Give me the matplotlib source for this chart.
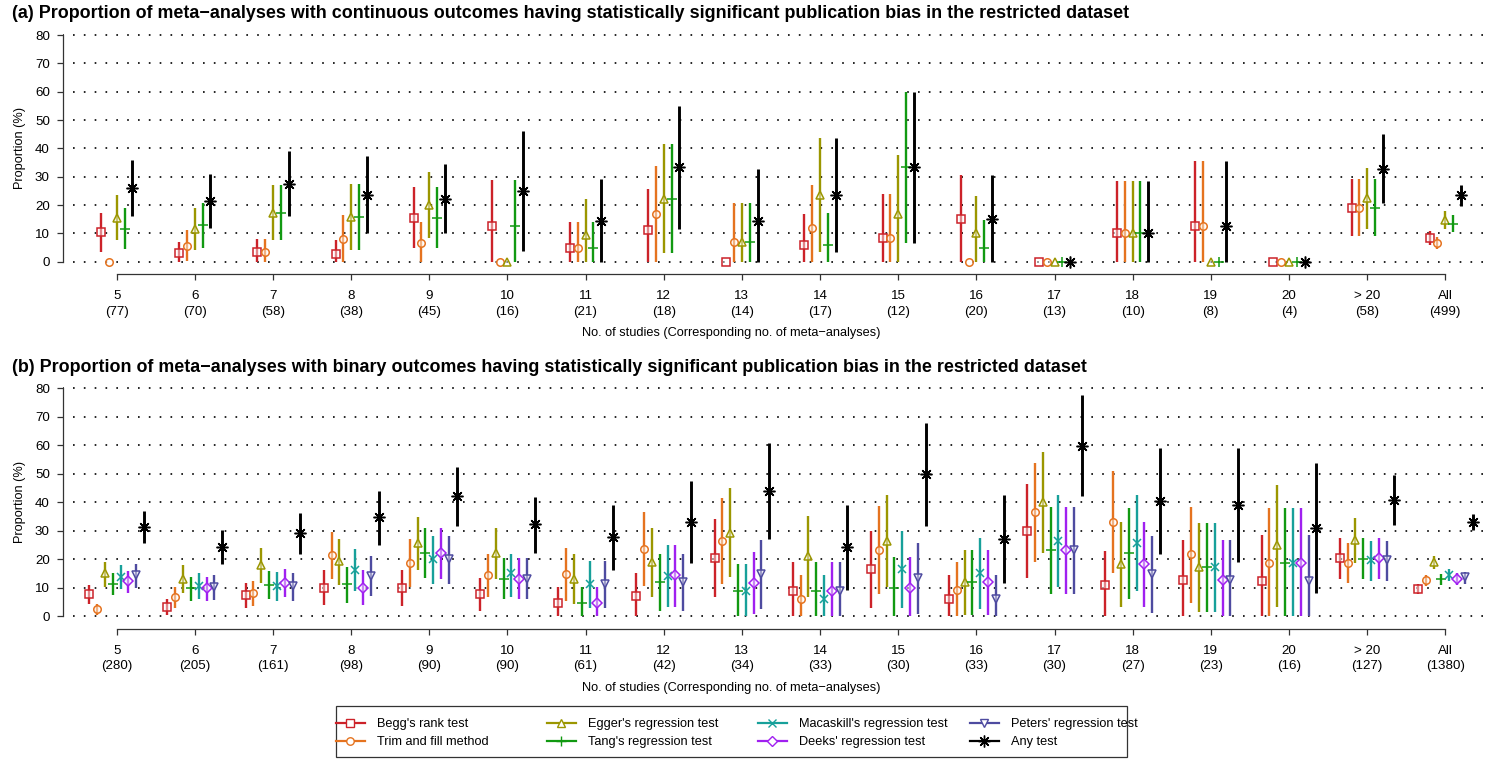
import matplotlib
matplotlib.use("Agg")
import matplotlib.pyplot as plt
from matplotlib.lines import Line2D
from matplotlib.patches import Rectangle

plt.rcParams['font.family'] = ['Liberation Sans', 'DejaVu Sans']

# ---------------- data ----------------
groups = ["5", "6", "7", "8", "9", "10", "11", "12", "13", "14", "15", "16",
          "17", "18", "19", "20", "> 20", "All"]
n_a = [77, 70, 58, 38, 45, 16, 21, 18, 14, 17, 12, 20, 13, 10, 8, 4, 58, 499]
n_b = [280, 205, 161, 98, 90, 90, 61, 42, 34, 33, 30, 33, 30, 27, 23, 16, 127, 1380]

# Panel (a): continuous outcomes
a_begg = [10.4, 2.9, 3.4, 2.6, 15.6, 12.5, 4.8, 11.1, 0, 5.9, 8.3, 15.0, 0, 10.0, 12.5, 0, 19.0, 8.4]
a_begg_lo = [3.6, 0, 0, 0, 5.0, 0, 0, 0, 0, 0, 0, 0, 0, 0, 0, 0, 8.9, 6.0]
a_begg_hi = [17.2, 6.8, 8.1, 7.7, 26.2, 28.7, 13.9, 25.6, 0, 17.0, 24.0, 30.6, 0, 28.6, 35.4, 0, 29.1, 10.9]

a_trim = [0, 5.7, 3.4, 7.9, 6.7, 0, 4.8, 16.7, 7.1, 11.8, 8.3, 0, 0, 10.0, 12.5, 0, 19.0, 6.6]
a_trim_lo = [0, 0.3, 0, 0, 0, 0, 0, 0, 0, 0, 0, 0, 0, 0, 0, 0, 8.9, 4.4]
a_trim_hi = [0, 11.2, 8.1, 16.5, 14.0, 0, 13.9, 33.9, 20.6, 27.2, 24.0, 0, 0, 28.6, 35.4, 0, 29.1, 8.7]

a_egger = [15.6, 11.4, 17.2, 15.8, 20.0, 0, 9.5, 22.2, 7.1, 23.5, 16.7, 10.0, 0, 10.0, 0, 0, 22.4, 14.8]
a_egger_lo = [7.5, 4.0, 7.5, 4.2, 8.3, 0, 0, 3.0, 0, 3.4, 0, 0, 0, 0, 0, 0, 11.7, 11.7]
a_egger_hi = [23.7, 18.9, 27.0, 27.4, 31.7, 0, 22.1, 41.4, 20.6, 43.7, 37.8, 23.1, 0, 28.6, 0, 0, 33.1, 17.9]

a_tang = [11.7, 12.9, 17.2, 15.8, 15.6, 12.5, 4.8, 22.2, 7.1, 5.9, 33.3, 5.0, 0, 10.0, 0, 0, 19.0, 13.4]
a_tang_lo = [4.5, 5.0, 7.5, 4.2, 5.0, 0, 0, 3.0, 0, 0, 6.7, 0, 0, 0, 0, 0, 8.9, 10.4]
a_tang_hi = [18.9, 20.7, 27.0, 27.4, 26.2, 28.7, 13.9, 41.4, 20.6, 17.1, 60.0, 14.6, 0, 28.6, 0, 0, 29.1, 16.4]

a_any = [26.0, 21.4, 27.6, 23.7, 22.2, 25.0, 14.3, 33.3, 14.3, 23.5, 33.3, 15.0, 0, 10.0, 12.5, 0, 32.8, 23.4]
a_any_lo = [16.2, 11.8, 16.1, 10.2, 10.1, 3.8, 0, 11.6, 0, 3.4, 6.7, 0, 0, 0, 0, 0, 20.7, 19.7]
a_any_hi = [35.8, 31.0, 39.1, 37.2, 34.4, 46.2, 29.3, 55.1, 32.6, 43.7, 60.0, 30.6, 0, 28.6, 35.4, 0, 44.9, 27.2]

# Panel (b): binary outcomes
b_begg = [7.8, 3.3, 7.4, 10.1, 10.1, 7.7, 4.8, 7.0, 20.5, 9.0, 16.6, 6.1, 29.9, 11.1, 12.9, 12.4, 20.4, 9.6]
b_begg_lo = [4.3, 0.6, 3.0, 3.9, 3.6, 2.0, 0, 0, 6.7, 0, 2.8, 0, 13.3, 0, 0, 0, 13.1, 7.7]
b_begg_hi = [11.0, 6.0, 11.6, 16.1, 16.1, 13.3, 10.4, 15.1, 34.3, 19.1, 30.1, 14.4, 46.3, 23.0, 26.8, 28.7, 27.5, 11.2]

b_trim = [2.5, 6.8, 8.1, 21.4, 18.8, 14.5, 14.7, 23.7, 26.4, 6.1, 23.3, 9.1, 36.6, 33.2, 21.8, 18.6, 18.8, 12.7]
b_trim_lo = [0.4, 2.9, 3.5, 13.0, 10.4, 6.8, 5.5, 10.6, 11.3, 0, 7.8, 0, 19.1, 15.1, 4.6, 0, 11.8, 10.6]
b_trim_hi = [4.3, 10.2, 12.3, 29.5, 27.0, 21.9, 23.9, 36.7, 41.4, 14.4, 38.7, 19.1, 53.9, 51.1, 38.5, 37.9, 25.7, 14.6]

b_egger = [15.1, 13.1, 18.0, 19.4, 25.6, 22.3, 13.1, 19.2, 29.4, 21.3, 26.5, 12.2, 40.0, 18.5, 17.2, 25.0, 26.8, 19.2]
b_egger_lo = [10.4, 8.3, 11.8, 11.1, 16.1, 13.2, 4.3, 6.9, 13.9, 6.9, 10.4, 0.5, 22.1, 3.4, 1.6, 3.4, 18.8, 16.7]
b_egger_hi = [19.2, 17.9, 24.0, 27.3, 34.7, 30.9, 21.9, 31.0, 44.9, 35.2, 42.6, 23.4, 57.5, 33.2, 32.9, 46.2, 34.6, 21.3]

b_tang = [11.3, 9.8, 11.1, 11.3, 22.1, 13.2, 4.8, 11.9, 8.8, 9.0, 10.1, 12.2, 23.3, 22.1, 17.2, 18.6, 20.1, 13.0]
b_tang_lo = [7.4, 5.4, 6.0, 4.8, 13.3, 6.0, 0, 2.0, 0, 0, 0, 0.5, 8.0, 6.1, 1.6, 0, 13.1, 10.9]
b_tang_hi = [15.1, 13.9, 16.0, 17.4, 30.9, 20.4, 10.4, 21.9, 18.5, 19.1, 20.9, 23.4, 38.5, 37.9, 32.9, 37.9, 27.5, 14.9]

b_macaskill = [13.9, 10.8, 10.8, 16.3, 20.0, 15.1, 11.3, 14.3, 8.8, 6.1, 16.6, 15.1, 26.5, 25.8, 17.2, 18.6, 19.8, 14.5]
b_macaskill_lo = [9.5, 6.1, 5.5, 8.8, 11.5, 6.8, 3.0, 3.4, 0, 0, 2.8, 2.5, 10.4, 9.0, 1.6, 0, 12.4, 12.4]
b_macaskill_hi = [18.0, 15.1, 15.4, 23.6, 28.3, 21.9, 19.5, 25.0, 18.5, 14.4, 30.1, 27.4, 42.5, 42.5, 32.9, 37.9, 26.5, 16.5]

b_deeks = [12.3, 9.8, 11.8, 10.1, 22.3, 13.2, 4.8, 14.4, 11.8, 9.0, 10.1, 12.2, 23.3, 18.5, 12.9, 18.6, 20.4, 13.1]
b_deeks_lo = [8.1, 5.4, 6.7, 3.9, 13.2, 6.0, 0, 3.4, 0.7, 0, 0, 0.5, 8.0, 3.4, 0, 0, 13.1, 11.1]
b_deeks_hi = [16.0, 13.9, 16.7, 16.1, 30.9, 20.4, 10.4, 25.0, 22.7, 19.1, 20.9, 23.4, 38.5, 33.2, 26.8, 37.9, 27.5, 15.1]

b_peters = [14.4, 10.4, 10.5, 14.3, 20.2, 13.2, 11.3, 11.9, 14.7, 9.0, 13.3, 6.1, 23.3, 14.7, 12.9, 12.4, 19.6, 13.7]
b_peters_lo = [9.8, 5.7, 5.5, 7.1, 11.5, 6.0, 3.0, 2.0, 2.5, 0, 0.7, 0, 8.0, 1.1, 0, 0, 12.4, 11.5]
b_peters_hi = [18.4, 14.4, 15.3, 21.3, 28.3, 20.4, 19.5, 21.9, 26.7, 19.1, 25.6, 14.4, 38.5, 28.2, 26.8, 28.7, 26.5, 15.6]

b_any = [31.3, 24.3, 29.1, 34.7, 42.2, 32.4, 27.8, 33.2, 44.0, 24.2, 49.9, 27.1, 59.9, 40.6, 39.1, 31.1, 40.8, 33.2]
b_any_lo = [25.6, 18.2, 21.9, 25.1, 31.7, 22.1, 16.3, 18.8, 27.1, 9.2, 31.8, 11.8, 42.1, 21.8, 18.9, 8.3, 32.0, 30.4]
b_any_hi = [36.8, 30.3, 36.1, 44.1, 52.5, 42.0, 39.1, 47.6, 60.9, 38.9, 68.0, 42.5, 77.5, 59.2, 58.9, 53.9, 49.5, 35.8]

# ---------------- styles ----------------
STY = {
    "Begg's rank test":            dict(color="#CC2229", marker="s", ms=5.4),
    "Trim and fill method":        dict(color="#E5731F", marker="o", ms=5.4),
    "Egger's regression test":     dict(color="#9B9600", marker="^", ms=6.2),
    "Tang's regression test":      dict(color="#119911", marker="+", ms=7.5),
    "Macaskill's regression test": dict(color="#17A09A", marker="x", ms=5.5),
    "Deeks' regression test":      dict(color="#A020F0", marker="D", ms=5.0),
    "Peters' regression test":     dict(color="#4E4BA0", marker="v", ms=6.2),
    "Any test":                    dict(color="black", marker=(8, 2, 0), ms=8.5),
}

series_a = [
    ("Begg's rank test", a_begg, a_begg_lo, a_begg_hi),
    ("Trim and fill method", a_trim, a_trim_lo, a_trim_hi),
    ("Egger's regression test", a_egger, a_egger_lo, a_egger_hi),
    ("Tang's regression test", a_tang, a_tang_lo, a_tang_hi),
    ("Any test", a_any, a_any_lo, a_any_hi),
]
series_b = [
    ("Begg's rank test", b_begg, b_begg_lo, b_begg_hi),
    ("Trim and fill method", b_trim, b_trim_lo, b_trim_hi),
    ("Egger's regression test", b_egger, b_egger_lo, b_egger_hi),
    ("Tang's regression test", b_tang, b_tang_lo, b_tang_hi),
    ("Macaskill's regression test", b_macaskill, b_macaskill_lo, b_macaskill_hi),
    ("Deeks' regression test", b_deeks, b_deeks_lo, b_deeks_hi),
    ("Peters' regression test", b_peters, b_peters_lo, b_peters_hi),
    ("Any test", b_any, b_any_lo, b_any_hi),
]

W, H = 1490, 760
fig = plt.figure(figsize=(W / 100, H / 100), dpi=100)

XMIN, XMAX = -0.687, 17.572
YMIN, YMAX = -4.34, 84.0
AXC = "#333333"
FS = 9.2


def px_axes(left, right, top, bottom):
    return fig.add_axes([left / W, 1 - bottom / H, (right - left) / W, (bottom - top) / H])


def setup(ax, nlist):
    ax.set_xlim(XMIN, XMAX)
    ax.set_ylim(YMIN, YMAX)
    ax.patch.set_visible(False)
    for s in ("top", "right"):
        ax.spines[s].set_visible(False)
    for s in ("left", "bottom"):
        ax.spines[s].set_color(AXC)
        ax.spines[s].set_linewidth(0.9)
    ax.spines["left"].set_bounds(0, 80)
    ax.spines["bottom"].set_bounds(0, len(groups) - 1)
    for yv in range(0, 90, 10):
        ax.axhline(yv, color="black", lw=1.2, ls=(0.5, (1, 5.5)), zorder=0)
    ax.set_yticks(range(0, 90, 10))
    ax.set_xticks(range(len(groups)))
    ax.set_xticklabels([f"{g}\n({n})" for g, n in zip(groups, nlist)],
                       linespacing=1.4)
    ax.tick_params(axis="both", direction="out", length=4.5, width=0.9,
                   color=AXC, labelsize=FS + 0.4, labelcolor="black")
    ax.tick_params(axis="x", pad=7)
    ax.tick_params(axis="y", pad=5)


def draw(ax, series):
    k = len(series)
    for j, (name, p, lo, hi) in enumerate(series):
        st = STY[name]
        off = (j - (k - 1) / 2) * 0.1
        x = [i + off for i in range(len(groups))]
        yerr = [[pi - l for pi, l in zip(p, lo)], [h - pi for pi, h in zip(p, hi)]]
        lw = 2.1 if name == "Any test" else 1.7
        ax.errorbar(x, p, yerr=yerr, fmt="none", ecolor=st["color"],
                    elinewidth=lw, capsize=0, zorder=2)
        ax.plot(x, p, ls="none", marker=st["marker"], ms=st["ms"],
                mec=st["color"], mfc=(1, 1, 1, 0.45), mew=1.1, zorder=3)


ax_a = px_axes(63, 1490, 23.7, 274.0)
setup(ax_a, n_a)
draw(ax_a, series_a)

ax_b = px_axes(63, 1490, 376.9, 628.7)
setup(ax_b, n_b)
draw(ax_b, series_b)

# titles and labels
TFS = 12.9
fig.text(12 / W, 1 - 13 / H,
         "(a) Proportion of meta\u2212analyses with continuous outcomes having statistically significant publication bias in the restricted dataset",
         ha="left", va="center", fontsize=TFS, fontweight="bold")
fig.text(12 / W, 1 - 367 / H,
         "(b) Proportion of meta\u2212analyses with binary outcomes having statistically significant publication bias in the restricted dataset",
         ha="left", va="center", fontsize=TFS, fontweight="bold")
xlab = "No. of studies (Corresponding no. of meta\u2212analyses)"
fig.text(731.7 / W, 1 - 333 / H, xlab, ha="center", va="center", fontsize=FS)
fig.text(731.7 / W, 1 - 688 / H, xlab, ha="center", va="center", fontsize=FS)
fig.text(20 / W, 1 - 148 / H, "Proportion (%)", rotation=90, ha="center", va="center", fontsize=FS)
fig.text(20 / W, 1 - 502 / H, "Proportion (%)", rotation=90, ha="center", va="center", fontsize=FS)

# legend: four columns of two entries inside one frame
legend_cols = [
    ["Begg's rank test", "Trim and fill method"],
    ["Egger's regression test", "Tang's regression test"],
    ["Macaskill's regression test", "Deeks' regression test"],
    ["Peters' regression test", "Any test"],
]
col_x = [336, 547, 758, 970]
for names, cx in zip(legend_cols, col_x):
    handles = []
    for nm in names:
        st = STY[nm]
        handles.append(Line2D([0], [0], color=st["color"], lw=1.6, marker=st["marker"],
                              ms=st["ms"], mec=st["color"], mfc="white", mew=1.0))
    fig.legend(handles, names, loc="upper left", bbox_to_anchor=(cx / W, 1 - 718.5 / H),
               frameon=False, fontsize=FS, handlelength=2.25, handletextpad=0.95,
               labelspacing=0.45, borderpad=0, borderaxespad=0)
fig.patches.append(Rectangle((336 / W, 1 - 757 / H), (1127 - 336) / W, (757 - 706) / H,
                             transform=fig.transFigure, fill=False, lw=0.9, ec=AXC))

fig.savefig("out.png", dpi=100)
